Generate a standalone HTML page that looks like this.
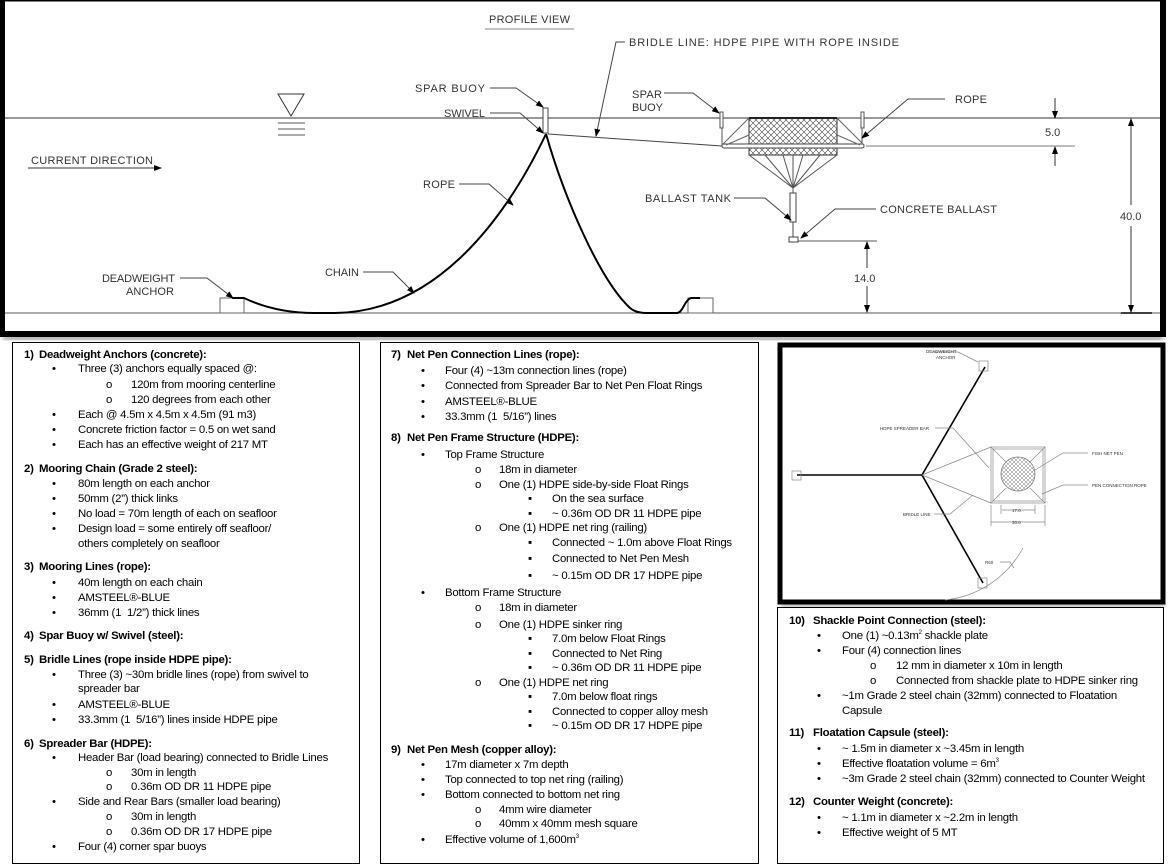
<!DOCTYPE html>
<html><head><meta charset="utf-8">
<style>
html,body{margin:0;padding:0;background:#fff;}
body{width:1168px;height:856px;position:relative;overflow:hidden;}
.box{position:absolute;border:1px solid #000;background:#fff;}
.t{position:absolute;font-family:"Liberation Sans",sans-serif;font-size:11.4px;line-height:14px;letter-spacing:-0.25px;white-space:nowrap;color:#000;}
.t i{display:inline-block;font-style:normal;}
.h{font-weight:bold;}
sup{font-size:6px;line-height:0;}
svg text{font-family:"Liberation Sans",sans-serif;fill:#333;}
</style></head><body>

<!-- Top profile diagram -->
<svg style="position:absolute;left:0;top:0" width="1168" height="345" viewBox="0 0 1168 345">
<defs>
<marker id="a" markerWidth="8" markerHeight="6" refX="7" refY="3" orient="auto" markerUnits="userSpaceOnUse"><path d="M0,0 L8,3 L0,6z" fill="#000"/></marker>
<pattern id="x" width="6" height="6" patternUnits="userSpaceOnUse"><path d="M0,0L6,6M6,0L0,6" stroke="#444" stroke-width="0.6"/></pattern>
<pattern id="x2" width="4" height="4" patternUnits="userSpaceOnUse"><path d="M0,0L4,4M4,0L0,4" stroke="#777" stroke-width="0.5"/></pattern>
<filter id="sh"><feGaussianBlur stdDeviation="2"/></filter>
</defs>
<rect x="3" y="336" width="1160" height="4" fill="#999" filter="url(#sh)"/>
<rect x="3" y="1" width="1159" height="333" fill="#fff" stroke="#000" stroke-width="1"/>
<rect x="0" y="0" width="5" height="337" fill="#000"/>
<rect x="1160" y="0" width="6" height="337" fill="#000"/>
<rect x="0" y="331" width="1166" height="6" fill="#000"/>
<rect x="0" y="0" width="1166" height="1.5" fill="#000"/>
<line x1="5" y1="118" x2="1160" y2="118" stroke="#333" stroke-width="1"/>
<line x1="5" y1="313" x2="1160" y2="313" stroke="#555" stroke-width="1"/>
<text x="489" y="23" font-size="11" textLength="82" letter-spacing="1">PROFILE VIEW</text>
<line x1="485" y1="29" x2="574" y2="29" stroke="#888"/>
<path d="M278,94 L304,94 L291,116z" fill="none" stroke="#333"/>
<line x1="278" y1="123" x2="305" y2="123" stroke="#555"/><line x1="278" y1="129" x2="305" y2="129" stroke="#555"/><line x1="278" y1="135" x2="305" y2="135" stroke="#555"/>
<text x="31" y="164" font-size="11" textLength="122">CURRENT DIRECTION</text>
<line x1="28" y1="168" x2="161" y2="168" stroke="#333" marker-end="url(#a)"/>
<rect x="220" y="298" width="24" height="15" fill="none" stroke="#666"/>
<rect x="688" y="298" width="25" height="15" fill="none" stroke="#666"/>
<path d="M232,298 L244,298 C265,308 290,313 315,313 L335,313 C430,312 500,230 546,134" fill="none" stroke="#000" stroke-width="2"/>
<path d="M546,134 C565,200 600,280 630,308 Q636,313 646,313 L677,313 C683,313 685,298 692,298 L700,298" fill="none" stroke="#000" stroke-width="2"/>
<rect x="543" y="108" width="5" height="25" fill="#fff" stroke="#444"/>
<line x1="548" y1="134" x2="722" y2="146" stroke="#444"/>
<rect x="720" y="112" width="3" height="16" fill="#fff" stroke="#555"/>
<rect x="861" y="112" width="3" height="16" fill="#fff" stroke="#555"/>
<line x1="722" y1="128" x2="722" y2="145" stroke="#555"/><line x1="862" y1="128" x2="862" y2="145" stroke="#555"/>
<rect x="749" y="118" width="88" height="37" fill="url(#x)" stroke="#333"/>
<line x1="749" y1="118" x2="837" y2="118" stroke="#222" stroke-width="2"/>
<rect x="722" y="144" width="142" height="4" rx="2" fill="#fff" stroke="#444"/>
<path d="M722,145 L749,118 M864,145 L837,118 M726,145 L749,135 M860,145 L837,135" stroke="#666" fill="none"/>
<path d="M749,155 L793,188 L837,155 M765,155 L793,188 L783,155 M803,155 L793,188 L820,155 M793,155 L793,193" stroke="#555" fill="none"/>
<rect x="790" y="193" width="6" height="29" fill="#fff" stroke="#444"/>
<line x1="793" y1="222" x2="793" y2="237" stroke="#444"/>
<rect x="789" y="237" width="9" height="5" fill="#fff" stroke="#444"/>
<line x1="866" y1="146" x2="1075" y2="146" stroke="#777"/>
<line x1="1055" y1="98" x2="1055" y2="118" stroke="#333" marker-end="url(#a)"/>
<line x1="1055" y1="166" x2="1055" y2="147" stroke="#333" marker-end="url(#a)"/>
<text x="1045" y="136" font-size="11">5.0</text>
<line x1="1131" y1="205" x2="1131" y2="119" stroke="#333" marker-end="url(#a)"/>
<line x1="1131" y1="226" x2="1131" y2="312" stroke="#333" marker-end="url(#a)"/>
<text x="1120" y="220" font-size="11">40.0</text>
<line x1="1121" y1="313" x2="1152" y2="313" stroke="#000" stroke-width="1.5"/>
<line x1="798" y1="241" x2="877" y2="241" stroke="#555"/>
<line x1="867" y1="268" x2="867" y2="242" stroke="#333" marker-end="url(#a)"/>
<line x1="867" y1="286" x2="867" y2="312" stroke="#333" marker-end="url(#a)"/>
<text x="854" y="282" font-size="11">14.0</text>
<g stroke="#444" fill="none">
<path d="M490,88 L516,88 L543,107" marker-end="url(#a)"/>
<path d="M490,113 L520,113 L543,133" marker-end="url(#a)"/>
<path d="M459,184 L489,184 L513,205" marker-end="url(#a)"/>
<path d="M363,272 L393,272 L414,293" marker-end="url(#a)"/>
<path d="M180,278 L207,278 L233,298" marker-end="url(#a)"/>
<path d="M625,42 L616,42 L596,136" marker-end="url(#a)"/>
<path d="M664,93 L693,93 L719,113" marker-end="url(#a)"/>
<path d="M945,99 L908,99 L862,138" marker-end="url(#a)"/>
<path d="M734,198 L765,198 L791,220" marker-end="url(#a)"/>
<path d="M876,209 L835,209 L801,238" marker-end="url(#a)"/>
</g>
<g font-size="11">
<text x="415" y="92" textLength="70">SPAR BUOY</text>
<text x="444" y="117" textLength="41">SWIVEL</text>
<text x="423" y="188" textLength="32">ROPE</text>
<text x="325" y="276" textLength="34">CHAIN</text>
<text x="102" y="282" textLength="73">DEADWEIGHT</text>
<text x="126" y="295" textLength="48">ANCHOR</text>
<text x="629" y="46" textLength="270">BRIDLE LINE: HDPE PIPE WITH ROPE INSIDE</text>
<text x="632" y="98" textLength="30">SPAR</text>
<text x="632" y="111" textLength="31">BUOY</text>
<text x="955" y="103" textLength="32">ROPE</text>
<text x="645" y="202" textLength="86">BALLAST TANK</text>
<text x="880" y="213" textLength="117">CONCRETE BALLAST</text>
</g>
</svg>

<!-- Plan view -->
<svg style="position:absolute;top:342px;left:776px" width="392" height="268" viewBox="776 342 392 268">
<rect x="781" y="603" width="384" height="4" fill="#aaa" filter="url(#sh)"/>
<rect x="780" y="345" width="383" height="257" fill="#fff" stroke="#000" stroke-width="5"/>
<g stroke="#000" stroke-width="1.6" fill="none">
<line x1="797" y1="475" x2="922" y2="475"/>
<line x1="922" y1="475" x2="985" y2="367"/>
<line x1="922" y1="475" x2="983" y2="583"/>
</g>
<g stroke="#888" fill="none" stroke-width="0.7">
<rect x="792" y="471" width="9" height="9"/>
<rect x="979" y="361" width="9" height="10"/>
<rect x="978" y="578" width="9" height="10"/>
<line x1="922" y1="475" x2="991" y2="447"/><line x1="922" y1="475" x2="991" y2="503"/>
<rect x="991" y="447" width="54" height="56"/>
<rect x="993" y="449" width="50" height="52"/>
<path d="M991,447 L1006,462 M1045,447 L1030,462 M991,503 L1006,488 M1045,503 L1030,488"/>
<path d="M1002,510 L1035,510 M991,522 L1045,522 M1001,505 L1001,514 M1035,505 L1035,514 M991,505 L991,526 M1045,505 L1045,526"/>
<path d="M1023,548 A100,100 0 0 1 945,600"/>
<path d="M932,352 L958,352 L978,362"/>
<path d="M935,428 L953,428 L989,468"/>
<path d="M1088,453 L1063,453 L1035,470"/>
<path d="M1088,485 L1063,485 L1042,494"/>
<path d="M934,514 L950,514 L973,495"/>
<path d="M1000,562 L1010,562 L1014,568"/>
</g>
<circle cx="1018" cy="474" r="17" fill="url(#x2)" stroke="#777" stroke-width="0.8"/>
<g font-size="4.5" fill="#666">
<text x="926" y="353">DEADWEIGHT</text><text x="936" y="359">ANCHOR</text>
<text x="880" y="430">HDPE SPREADER BAR</text>
<text x="1092" y="455">FISH NET PEN</text>
<text x="1092" y="487">PEN CONNECTION ROPE</text>
<text x="903" y="516">BRIDLE LINE</text>
<text x="1012" y="512">17.0</text>
<text x="1012" y="524">30.0</text>
<text x="985" y="564">R60</text>
</g>
</svg>

<div class="box" style="left:12px;top:342px;width:346px;height:520px"></div>
<div class="box" style="left:380px;top:342px;width:377px;height:520px"></div>
<div class="box" style="left:777px;top:607px;width:385px;height:255px"></div>

<div class="t h" style="left:24px;top:348px"><i style="width:15px">1)</i>Deadweight Anchors (concrete):</div>
<div class="t" style="left:52px;top:362px"><i style="width:26px">•</i>Three (3) anchors equally spaced @:</div>
<div class="t" style="left:106px;top:378px"><i style="width:25px">o</i>120m from mooring centerline</div>
<div class="t" style="left:106px;top:393px"><i style="width:25px">o</i>120 degrees from each other</div>
<div class="t" style="left:52px;top:408px"><i style="width:26px">•</i>Each @ 4.5m x 4.5m x 4.5m (91 m3)</div>
<div class="t" style="left:52px;top:423px"><i style="width:26px">•</i>Concrete friction factor = 0.5 on wet sand</div>
<div class="t" style="left:52px;top:438px"><i style="width:26px">•</i>Each has an effective weight of 217 MT</div>
<div class="t h" style="left:24px;top:462px"><i style="width:15px">2)</i>Mooring Chain (Grade 2 steel):</div>
<div class="t" style="left:52px;top:477px"><i style="width:26px">•</i>80m length on each anchor</div>
<div class="t" style="left:52px;top:492px"><i style="width:26px">•</i>50mm (2”) thick links</div>
<div class="t" style="left:52px;top:507px"><i style="width:26px">•</i>No load = 70m length of each on seafloor</div>
<div class="t" style="left:52px;top:522px"><i style="width:26px">•</i>Design load = some entirely off seafloor/</div>
<div class="t" style="left:78px;top:537px">others completely on seafloor</div>
<div class="t h" style="left:24px;top:560px"><i style="width:15px">3)</i>Mooring Lines (rope):</div>
<div class="t" style="left:52px;top:576px"><i style="width:26px">•</i>40m length on each chain</div>
<div class="t" style="left:52px;top:591px"><i style="width:26px">•</i>AMSTEEL®-BLUE</div>
<div class="t" style="left:52px;top:606px"><i style="width:26px">•</i>36mm (1&nbsp; 1/2”) thick lines</div>
<div class="t h" style="left:24px;top:629px"><i style="width:15px">4)</i>Spar Buoy w/ Swivel (steel):</div>
<div class="t h" style="left:24px;top:653px"><i style="width:15px">5)</i>Bridle Lines (rope inside HDPE pipe):</div>
<div class="t" style="left:52px;top:668px"><i style="width:26px">•</i>Three (3) ~30m bridle lines (rope) from swivel to</div>
<div class="t" style="left:78px;top:682px">spreader bar</div>
<div class="t" style="left:52px;top:698px"><i style="width:26px">•</i>AMSTEEL®-BLUE</div>
<div class="t" style="left:52px;top:713px"><i style="width:26px">•</i>33.3mm (1&nbsp; 5/16”) lines inside HDPE pipe</div>
<div class="t h" style="left:24px;top:737px"><i style="width:15px">6)</i>Spreader Bar (HDPE):</div>
<div class="t" style="left:52px;top:751px"><i style="width:26px">•</i>Header Bar (load bearing) connected to Bridle Lines</div>
<div class="t" style="left:106px;top:766px"><i style="width:25px">o</i>30m in length</div>
<div class="t" style="left:106px;top:780px"><i style="width:25px">o</i>0.36m OD DR 11 HDPE pipe</div>
<div class="t" style="left:52px;top:795px"><i style="width:26px">•</i>Side and Rear Bars (smaller load bearing)</div>
<div class="t" style="left:106px;top:810px"><i style="width:25px">o</i>30m in length</div>
<div class="t" style="left:106px;top:825px"><i style="width:25px">o</i>0.36m OD DR 17 HDPE pipe</div>
<div class="t" style="left:52px;top:840px"><i style="width:26px">•</i>Four (4) corner spar buoys</div>

<div class="t h" style="left:391px;top:348px"><i style="width:16px">7)</i>Net Pen Connection Lines (rope):</div>
<div class="t" style="left:421px;top:364px"><i style="width:24px">•</i>Four (4) ~13m connection lines (rope)</div>
<div class="t" style="left:421px;top:379px"><i style="width:24px">•</i>Connected from Spreader Bar to Net Pen Float Rings</div>
<div class="t" style="left:421px;top:395px"><i style="width:24px">•</i>AMSTEEL®-BLUE</div>
<div class="t" style="left:421px;top:410px"><i style="width:24px">•</i>33.3mm (1&nbsp; 5/16”) lines</div>
<div class="t h" style="left:391px;top:431px"><i style="width:16px">8)</i>Net Pen Frame Structure (HDPE):</div>
<div class="t" style="left:421px;top:448px"><i style="width:24px">•</i>Top Frame Structure</div>
<div class="t" style="left:475px;top:463px"><i style="width:24px">o</i>18m in diameter</div>
<div class="t" style="left:475px;top:478px"><i style="width:24px">o</i>One (1) HDPE side-by-side Float Rings</div>
<div class="t" style="left:528px;top:492px"><i style="width:24px">▪</i>On the sea surface</div>
<div class="t" style="left:528px;top:507px"><i style="width:24px">▪</i>~ 0.36m OD DR 11 HDPE pipe</div>
<div class="t" style="left:475px;top:521px"><i style="width:24px">o</i>One (1) HDPE net ring (railing)</div>
<div class="t" style="left:528px;top:536px"><i style="width:24px">▪</i>Connected ~ 1.0m above Float Rings</div>
<div class="t" style="left:528px;top:552px"><i style="width:24px">▪</i>Connected to Net Pen Mesh</div>
<div class="t" style="left:528px;top:569px"><i style="width:24px">▪</i>~ 0.15m OD DR 17 HDPE pipe</div>
<div class="t" style="left:421px;top:586px"><i style="width:24px">•</i>Bottom Frame Structure</div>
<div class="t" style="left:475px;top:601px"><i style="width:24px">o</i>18m in diameter</div>
<div class="t" style="left:475px;top:618px"><i style="width:24px">o</i>One (1) HDPE sinker ring</div>
<div class="t" style="left:528px;top:632px"><i style="width:24px">▪</i>7.0m below Float Rings</div>
<div class="t" style="left:528px;top:647px"><i style="width:24px">▪</i>Connected to Net Ring</div>
<div class="t" style="left:528px;top:661px"><i style="width:24px">▪</i>~ 0.36m OD DR 11 HDPE pipe</div>
<div class="t" style="left:475px;top:676px"><i style="width:24px">o</i>One (1) HDPE net ring</div>
<div class="t" style="left:528px;top:690px"><i style="width:24px">▪</i>7.0m below float rings</div>
<div class="t" style="left:528px;top:705px"><i style="width:24px">▪</i>Connected to copper alloy mesh</div>
<div class="t" style="left:528px;top:719px"><i style="width:24px">▪</i>~ 0.15m OD DR 17 HDPE pipe</div>
<div class="t h" style="left:391px;top:743px"><i style="width:16px">9)</i>Net Pen Mesh (copper alloy):</div>
<div class="t" style="left:421px;top:758px"><i style="width:24px">•</i>17m diameter x 7m depth</div>
<div class="t" style="left:421px;top:773px"><i style="width:24px">•</i>Top connected to top net ring (railing)</div>
<div class="t" style="left:421px;top:788px"><i style="width:24px">•</i>Bottom connected to bottom net ring</div>
<div class="t" style="left:475px;top:803px"><i style="width:24px">o</i>4mm wire diameter</div>
<div class="t" style="left:475px;top:817px"><i style="width:24px">o</i>40mm x 40mm mesh square</div>
<div class="t" style="left:421px;top:833px"><i style="width:24px">•</i>Effective volume of 1,600m<sup>3</sup></div>

<div class="t h" style="left:789px;top:614px"><i style="width:24px">10)</i>Shackle Point Connection (steel):</div>
<div class="t" style="left:817px;top:629px"><i style="width:25px">•</i>One (1) ~0.13m<sup>2</sup> shackle plate</div>
<div class="t" style="left:817px;top:644px"><i style="width:25px">•</i>Four (4) connection lines</div>
<div class="t" style="left:870px;top:659px"><i style="width:26px">o</i>12 mm in diameter x 10m in length</div>
<div class="t" style="left:870px;top:674px"><i style="width:26px">o</i>Connected from shackle plate to HDPE sinker ring</div>
<div class="t" style="left:817px;top:689px"><i style="width:25px">•</i>~1m Grade 2 steel chain (32mm) connected to Floatation</div>
<div class="t" style="left:842px;top:704px">Capsule</div>
<div class="t h" style="left:789px;top:726px"><i style="width:24px">11)</i>Floatation Capsule (steel):</div>
<div class="t" style="left:817px;top:742px"><i style="width:25px">•</i>~ 1.5m in diameter x ~3.45m in length</div>
<div class="t" style="left:817px;top:757px"><i style="width:25px">•</i>Effective floatation volume = 6m<sup>3</sup></div>
<div class="t" style="left:817px;top:772px"><i style="width:25px">•</i>~3m Grade 2 steel chain (32mm) connected to Counter Weight</div>
<div class="t h" style="left:789px;top:795px"><i style="width:24px">12)</i>Counter Weight (concrete):</div>
<div class="t" style="left:817px;top:811px"><i style="width:25px">•</i>~ 1.1m in diameter x ~2.2m in length</div>
<div class="t" style="left:817px;top:826px"><i style="width:25px">•</i>Effective weight of 5 MT</div>

</body></html>
